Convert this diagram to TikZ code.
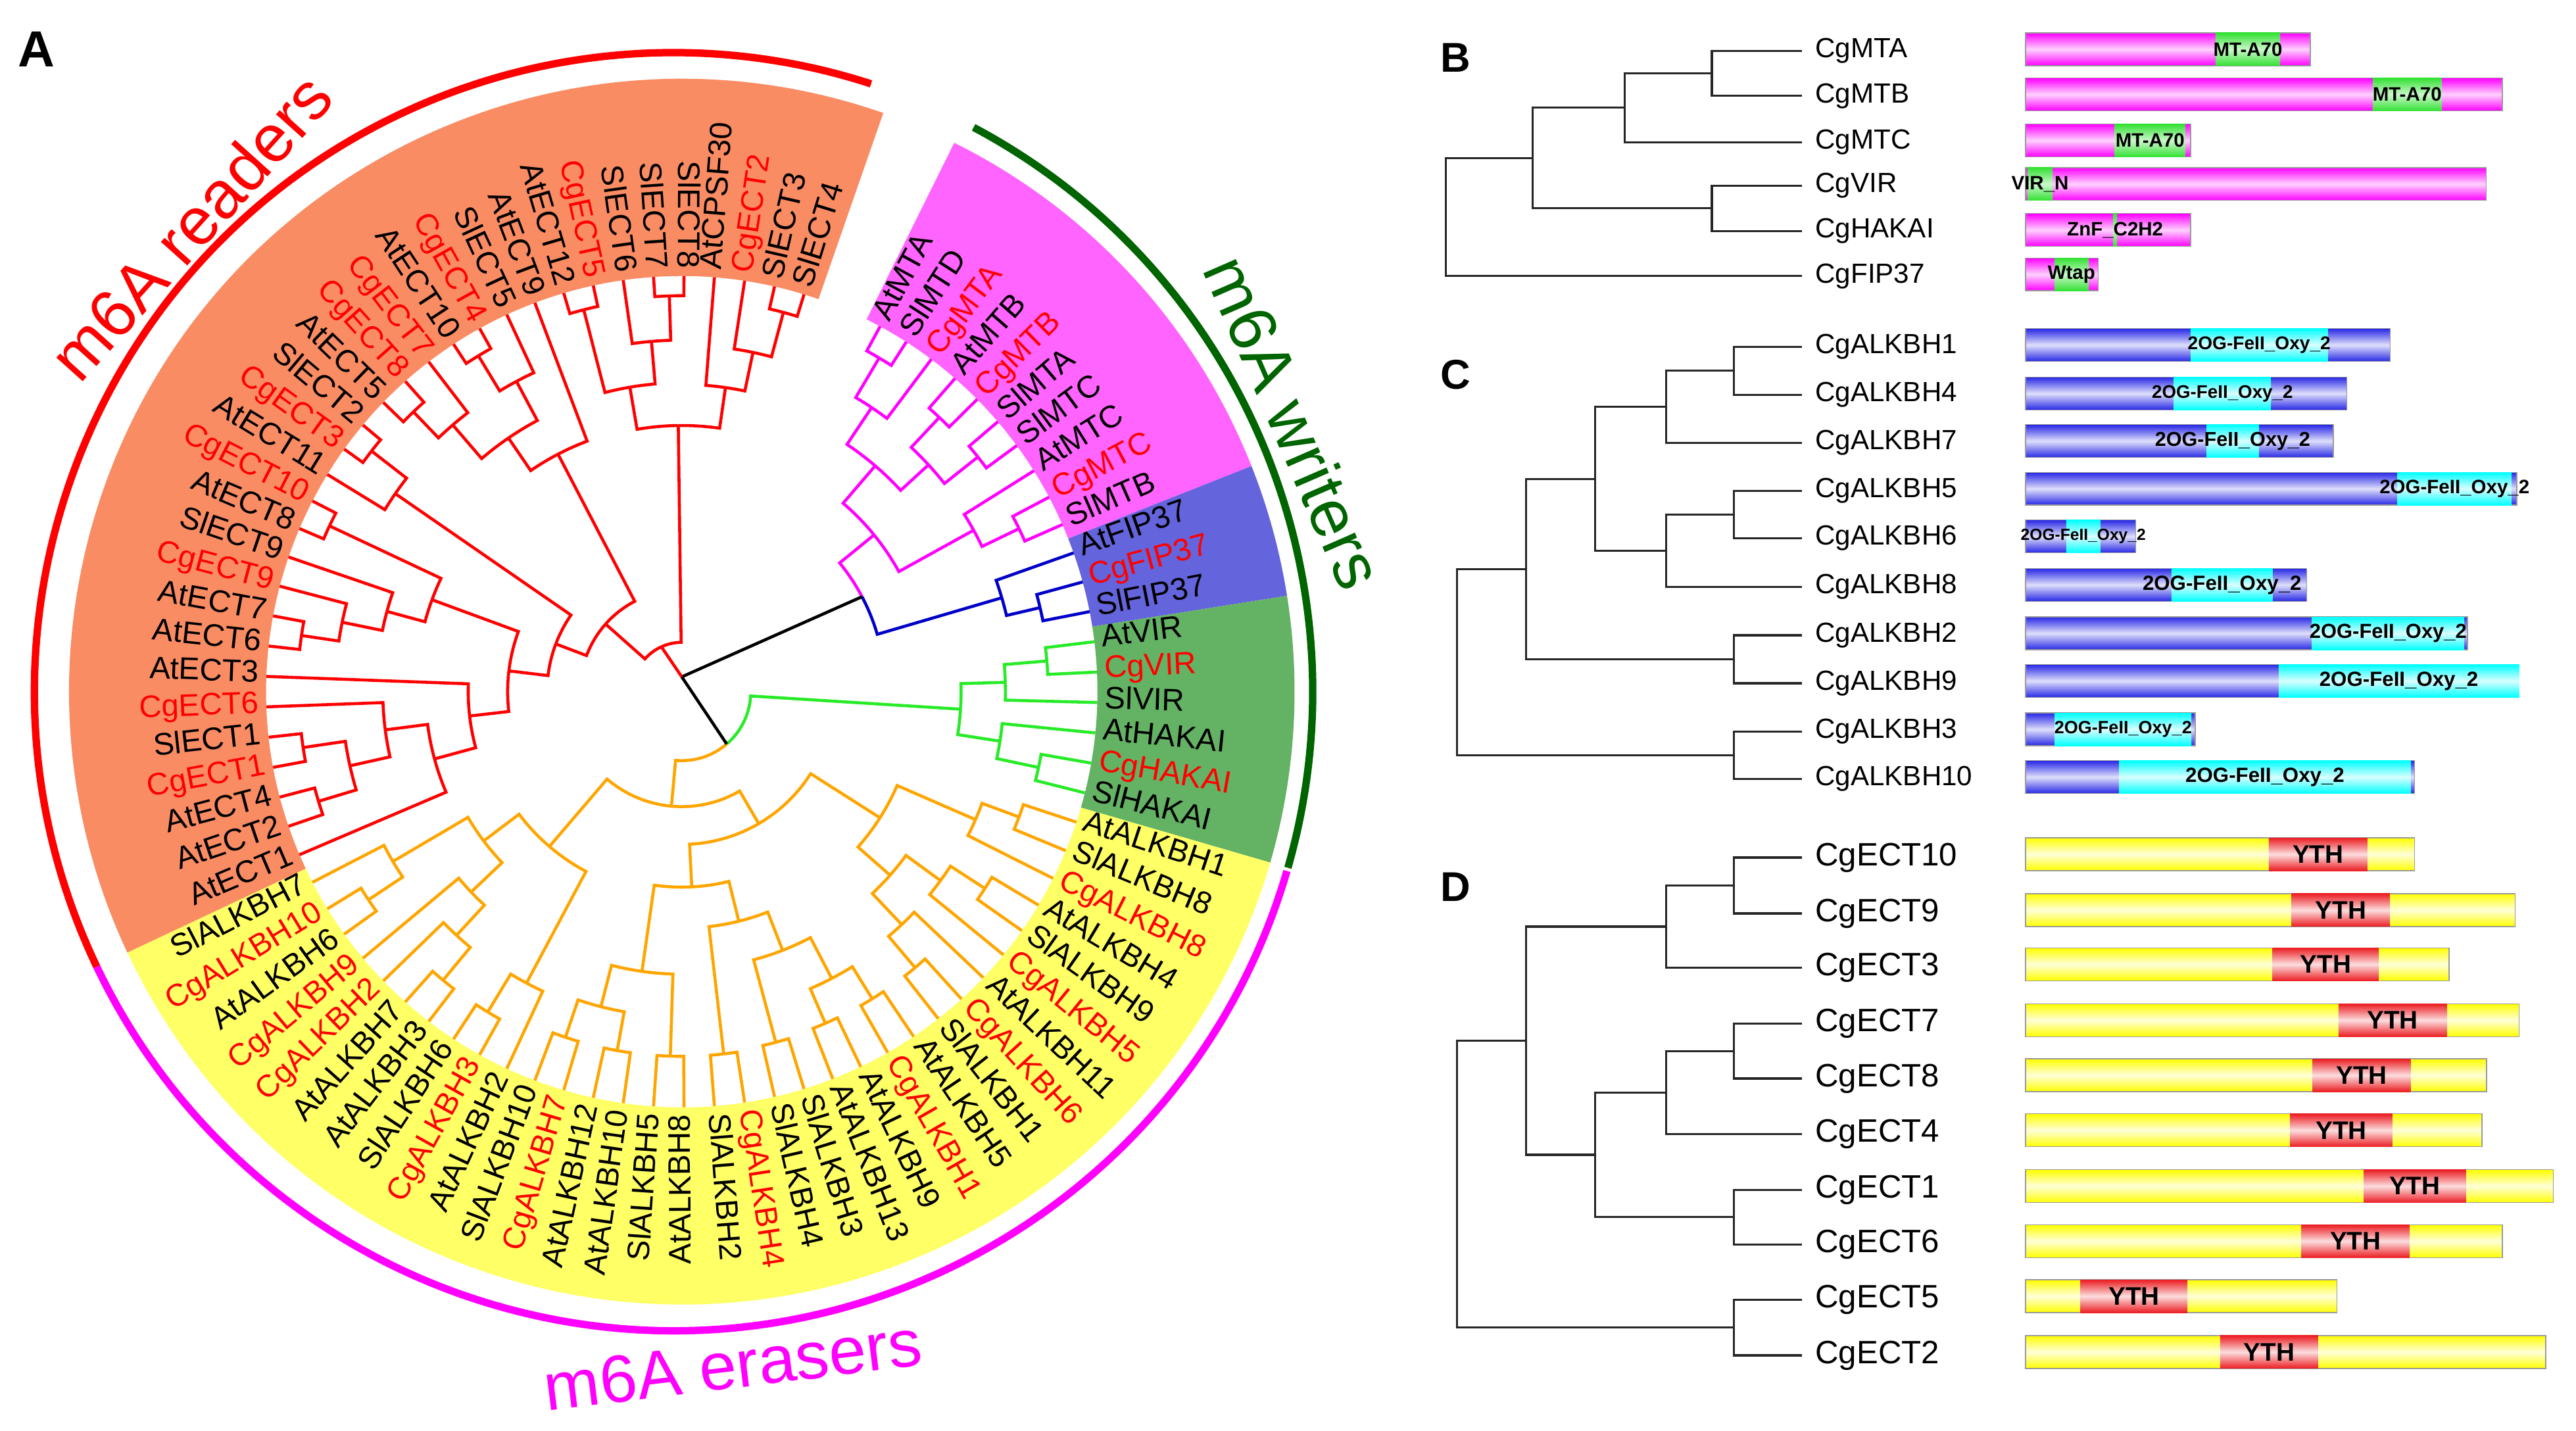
\documentclass[tikz,border=0pt]{standalone}
\usepackage{fontspec}
\setmainfont{Liberation Sans}

\definecolor{rdc}{RGB}{255,0,0}
\definecolor{mtc}{RGB}{255,0,255}
\definecolor{fpc}{RGB}{0,0,200}
\definecolor{grc}{RGB}{40,235,40}
\definecolor{orc}{RGB}{255,165,0}
\definecolor{wrgreen}{RGB}{0,100,0}
\definecolor{bandor}{RGB}{250,140,100}
\definecolor{bandpk}{RGB}{255,100,255}
\definecolor{bandbl}{RGB}{100,100,220}
\definecolor{bandgr}{RGB}{100,178,100}
\definecolor{bandyl}{RGB}{255,255,102}
\definecolor{domgr}{RGB}{50,225,50}
\definecolor{alb}{RGB}{40,40,230}
\definecolor{ecr}{RGB}{235,30,35}

\tikzset{
  branch/.style = {line width=1.3pt, line join=miter},
  leaflbl/.style = {inner sep=1pt, font=\fontsize{13.5}{16}\selectfont},
  grouplbl/.style = {inner sep=0pt, font=\fontsize{29}{34}\selectfont},
  panellbl/.style = {inner sep=0pt, font=\bfseries\fontsize{18}{22}\selectfont},
  grouparc/.style = {line width=3.2pt},
  tree/.style = {line width=0.9pt, draw=black!85},
  cglbl/.style = {anchor=west, inner xsep=5.5pt, inner ysep=1pt, font=\fontsize{12}{14}\selectfont},
  domlbl/.style = {inner sep=0pt, text=black},
  mtbar/.style = {draw=black!40, line width=0.4pt, top color=mtc, bottom color=mtc, middle color=mtc!18!white},
  mtdom/.style = {top color=domgr, bottom color=domgr, middle color=domgr!25!white},
  albar/.style = {draw=black!40, line width=0.4pt, top color=alb, bottom color=alb, middle color=alb!15!white},
  aldom/.style = {top color=cyan, bottom color=cyan, middle color=cyan!15!white},
  ecbar/.style = {draw=black!40, line width=0.4pt, top color=yellow, bottom color=yellow, middle color=yellow!15!white},
  ecdom/.style = {top color=ecr, bottom color=ecr, middle color=ecr!15!white}
}

% branch of the circular tree: parent index/radius to child index/radius
\newcommand\trbr[5]{%
  \pgfmathsetmacro\tbpa{61.5-4.2*(#2)}%
  \pgfmathsetmacro\tbca{61.5-4.2*(#4)}%
  \draw[branch, draw=#1] (\tbpa:#3) arc[start angle=\tbpa, end angle=\tbca, radius=#3*0.025cm] -- (\tbca:#5);%
}
% coloured band behind the leaf labels
\newcommand\clband[3]{%
  \pgfmathsetmacro\bsa{61.5-4.2*(#2)}%
  \pgfmathsetmacro\bea{61.5-4.2*(#3)}%
  \fill[#1] (\bsa:253) arc[start angle=\bsa, end angle=\bea, radius=253*0.025cm] -- (\bea:373) arc[start angle=\bea, end angle=\bsa, radius=373*0.025cm] -- cycle;%
}
% protein bar with one domain
\newcommand\genebar[8]{%
  \draw[#7bar] (1233,{-(#2)+10}) rectangle (#3,{-(#2)-10});
  \shade[#7dom] (#4,{-(#2)+10}) rectangle (#5,{-(#2)-10});
  \node[domlbl, font=\bfseries\fontsize{#8}{10}\selectfont] (#1) at ({((#4)+(#5))/2},{-(#2)}) {#6};%
}

\begin{document}
\begin{tikzpicture}[x=0.025cm, y=0.025cm]
\useasboundingbox (0,0) rectangle (1568,-871);

\node[panellbl, font=\bfseries\fontsize{22}{26}\selectfont] (pA) at (22,-30) {A};

% circular tree
\begin{scope}[shift={(415,-421)}]
\clband{bandpk}{-0.5}{9.5}
\clband{bandbl}{9.5}{12.5}
\clband{bandgr}{12.5}{18.5}
\clband{bandyl}{18.5}{51.5}
\clband{bandor}{51.5}{83.5}

\foreach \bcol/\bpi/\bpr/\bxi/\bxr/\byi/\byr in {
  mtc/0.5/236/0/253/1/253, mtc/1.25/208/0.5/236/2/253, mtc/3.5/229/3/253/4/253,
  mtc/5.5/230/5/253/6/253, mtc/4.5/204/3.5/229/5.5/230, mtc/2.875/181/1.25/208/4.5/204,
  mtc/8.5/228/8/253/9/253, mtc/7.75/203/7/253/8.5/228, mtc/5.3125/151/2.875/181/7.75/203,
  fpc/11.5/224/11/253/12/253, fpc/10.75/203/10/253/11.5/224,
  grc/13.5/223/13/253/14/253, grc/14.25/197/13.5/223/15/253, grc/17.5/222/17/253/18/253,
  grc/16.75/196/16/253/17.5/222, grc/15.5/170/14.25/197/16.75/196,
  orc/19.5/219/19/253/20/253, orc/20.25/195/19.5/219/21/253, orc/22.5/220/22/253/23/253,
  orc/23.25/195/22.5/220/24/253, orc/26.5/220/26/253/27/253, orc/25.75/195/25/253/26.5/220,
  orc/24.5/169/23.25/195/25.75/195, orc/22.375/143/20.25/195/24.5/169,
  orc/28.5/220/28/253/29/253, orc/30.5/220/30/253/31/253, orc/29.5/197/28.5/220/30.5/220,
  orc/32.5/221/32/253/33/253, orc/31/169/29.5/197/32.5/221, orc/34.5/222/34/253/35/253,
  orc/32.75/144/31/169/34.5/222, orc/36.5/222/36/253/37/253, orc/38.5/222/38/253/39/253,
  orc/40.5/222/40/253/41/253, orc/39.5/198/38.5/222/40.5/222, orc/38/172/36.5/222/39.5/198,
  orc/35.375/119/32.75/144/38/172, orc/28.875/93/22.375/143/35.375/119,
  orc/43.5/228/43/253/44/253, orc/42.75/201/42/253/43.5/228, orc/45.5/228/45/253/46/253,
  orc/46.25/202/45.5/228/47/253, orc/47.125/177/46.25/202/48/253, orc/49.5/229/49/253/50/253,
  orc/50.25/204/49.5/229/51/253, orc/48.69/151/47.125/177/50.25/204,
  orc/45.72/124/42.75/201/48.69/151, orc/37.3/70/28.875/93/45.72/124,
  rdc/53.5/231/53/253/54/253, rdc/55.5/233/55/253/56/253, rdc/54.5/207/53.5/231/55.5/233,
  rdc/55.75/182/54.5/207/57/253, rdc/53.875/156/52/253/55.75/182, rdc/55.94/130/53.875/156/58/253,
  rdc/59.5/234/59/253/60/253, rdc/60.25/211/59.5/234/61/253, rdc/61.125/186/60.25/211/62/253,
  rdc/63.5/237/63/253/64/253, rdc/62.31/162/61.125/186/63.5/237, rdc/59.13/106/55.94/130/62.31/162,
  rdc/66.5/239/66/253/67/253, rdc/65.75/212/65/253/66.5/239, rdc/62.44/82/59.13/106/65.75/212,
  rdc/68.5/236/68/253/69/253, rdc/69.25/214/68.5/236/70/253, rdc/71.5/239/71/253/72/253,
  rdc/72.25/214/71.5/239/73/253, rdc/70.75/187/69.25/214/72.25/214, rdc/72.375/163/70.75/187/74/253,
  rdc/67.4/62/62.44/82/72.375/163, rdc/75.5/240/75/253/76/253, rdc/78.5/241/78/253/79/253,
  rdc/77.75/214/77/253/78.5/241, rdc/76.625/188/75.5/240/77.75/214, rdc/82.5/239/82/253/83/253,
  rdc/81.75/211/81/253/82.5/239, rdc/80.875/187/80/253/81.75/211, rdc/78.75/162/76.625/188/80.875/187,
  rdc/73.1/30/67.4/62/78.75/162}{
  \trbr{\bcol}{\bpi}{\bpr}{\bxi}{\bxr}
  \trbr{\bcol}{\bpi}{\bpr}{\byi}{\byr}
}
\trbr{mtc}{8.03}{124}{5.3125}{151}
\trbr{fpc}{8.03}{124}{10.75}{203}
\trbr{grc}{26.4}{42}{15.5}{170}
\trbr{orc}{26.4}{42}{37.3}{70}

% root
\coordinate (root) at (0,9);
\coordinate (nW0) at ({61.5-4.2*8.03}:124);
\coordinate (nGO) at ({61.5-4.2*26.4}:42);
\coordinate (nP4) at ({61.5-4.2*73.1}:30);
\draw[branch] (root) -- (nW0);
\draw[branch] (root) -- (nGO);
\draw[branch, draw=rdc] (root) -- (nP4);

% leaf labels
\foreach \lab/\col [count=\i from 0] in {AtMTA/black, SlMTD/black, CgMTA/rdc, AtMTB/black,
  CgMTB/rdc, SlMTA/black, SlMTC/black, AtMTC/black, CgMTC/rdc, SlMTB/black, AtFIP37/black,
  CgFIP37/rdc, SlFIP37/black, AtVIR/black, CgVIR/rdc, SlVIR/black, AtHAKAI/black, CgHAKAI/rdc,
  SlHAKAI/black, AtALKBH1/black, SlALKBH8/black, CgALKBH8/rdc, AtALKBH4/black, SlALKBH9/black,
  CgALKBH5/rdc, AtALKBH11/black, CgALKBH6/rdc, SlALKBH1/black, AtALKBH5/black, CgALKBH1/rdc,
  AtALKBH9/black, AtALKBH13/black, SlALKBH3/black, SlALKBH4/black, CgALKBH4/rdc, SlALKBH2/black,
  AtALKBH8/black, SlALKBH5/black, AtALKBH10/black, AtALKBH12/black, CgALKBH7/rdc, SlALKBH10/black,
  AtALKBH2/black, CgALKBH3/rdc, SlALKBH6/black, AtALKBH3/black, AtALKBH7/black, CgALKBH2/rdc,
  CgALKBH9/rdc, AtALKBH6/black, CgALKBH10/rdc, SlALKBH7/black, AtECT1/black, AtECT2/black,
  AtECT4/black, CgECT1/rdc, SlECT1/black, CgECT6/rdc, AtECT3/black, AtECT6/black, AtECT7/black,
  CgECT9/rdc, SlECT9/black, AtECT8/black, CgECT10/rdc, AtECT11/black, CgECT3/rdc, SlECT2/black,
  AtECT5/black, CgECT8/rdc, CgECT7/rdc, AtECT10/black, CgECT4/rdc, SlECT5/black, AtECT9/black,
  AtECT12/black, CgECT5/rdc, SlECT6/black, SlECT7/black, SlECT8/black, AtCPSF30/black,
  CgECT2/rdc, SlECT3/black, SlECT4/black}{
  \pgfmathsetmacro\lfang{61.5-4.2*\i}
  \pgfmathtruncatemacro\lft{cos(\lfang)<0.02}
  \ifnum\lft=1
    \node[leaflbl, text=\col, anchor=mid east, rotate=\lfang+180] (lf\i) at (\lfang:256) {\lab};
  \else
    \node[leaflbl, text=\col, anchor=mid west, rotate=\lfang] (lf\i) at (\lfang:256) {\lab};
  \fi
}
\end{scope}

% group arcs
\begin{scope}[shift={(410,-421)}]
\draw[grouparc, rdc] (205.5:389) arc[start angle=205.5, end angle=72, radius=389*0.025cm];
\draw[grouparc, wrgreen] (62:389) arc[start angle=62, end angle=-16, radius=389*0.025cm];
\draw[grouparc, mtc] (-16.3:389) arc[start angle=-16.3, end angle=-154.5, radius=389*0.025cm];
\end{scope}

\node[grouplbl, text=rdc, rotate=48] (grpR) at (116,-138) {m6A readers};
\node[grouplbl, text=wrgreen, rotate=-66.5] (grpW) at (788,-257) {m6A writers};
\node[grouplbl, text=mtc, rotate=7] (grpE) at (446,-831) {m6A erasers};

% Panel B
\node[panellbl] (pB) at (886,-35) {B};
\node[cglbl] (tMTA) at (1097,-31) {CgMTA};
\node[cglbl] (tMTB) at (1097,-58.4) {CgMTB};
\node[cglbl] (tMTC) at (1097,-86.5) {CgMTC};
\node[cglbl] (tVIR) at (1097,-113) {CgVIR};
\node[cglbl] (tHAKAI) at (1097,-140.6) {CgHAKAI};
\node[cglbl] (tFIP) at (1097,-168) {CgFIP37};
\coordinate (b3) at (1042,-44.7);
\coordinate (b2) at (989,-65.6);
\coordinate (b4) at (1042,-126.8);
\coordinate (b1) at (933,-96.2);
\coordinate (b0) at (880,-132.1);
\draw[tree] (tMTA.west) -| (b3) |- (tMTB.west);
\draw[tree] (b3) -| (b2) |- (tMTC.west);
\draw[tree] (tVIR.west) -| (b4) |- (tHAKAI.west);
\draw[tree] (b2) -| (b1) |- (b4);
\draw[tree] (b1) -| (b0) |- (tFIP.west);

\genebar{yMTA}{30}{1406.3}{1348.6}{1387.9}{MT-A70}{mt}{8.4}
\genebar{yMTB}{57.5}{1523.1}{1444.2}{1486.2}{MT-A70}{mt}{8.4}
\genebar{yMTC}{85.5}{1333.4}{1287.2}{1330.2}{MT-A70}{mt}{8.4}
\genebar{yVIR}{112}{1513.4}{1234.1}{1249.4}{VIR\_N}{mt}{8.4}
\genebar{yHAKAI}{140}{1333.4}{1286.3}{1288.6}{ZnF\_C2H2}{mt}{8.4}
\genebar{yFIP}{167}{1277.1}{1250.7}{1271.1}{Wtap}{mt}{8.4}

% Panel C
\node[panellbl] (pC) at (886,-228) {C};
\node[cglbl] (tA1) at (1097,-211) {CgALKBH1};
\node[cglbl] (tA4) at (1097,-240.4) {CgALKBH4};
\node[cglbl] (tA7) at (1097,-269.6) {CgALKBH7};
\node[cglbl] (tA5) at (1097,-298.7) {CgALKBH5};
\node[cglbl] (tA6) at (1097,-327.7) {CgALKBH6};
\node[cglbl] (tA8) at (1097,-357.3) {CgALKBH8};
\node[cglbl] (tA2) at (1097,-386.7) {CgALKBH2};
\node[cglbl] (tA9) at (1097,-415.9) {CgALKBH9};
\node[cglbl] (tA3) at (1097,-445.2) {CgALKBH3};
\node[cglbl] (tA10) at (1097,-474) {CgALKBH10};
\coordinate (c14) at (1055.5,-225.7);
\coordinate (c147) at (1014,-247.65);
\coordinate (c56) at (1055.5,-313.2);
\coordinate (c568) at (1014,-335.25);
\coordinate (c18) at (971,-291.45);
\coordinate (c29) at (1055.5,-401.3);
\coordinate (c19) at (929,-346.4);
\coordinate (c310) at (1055.5,-459.6);
\coordinate (c0) at (887,-403);
\draw[tree] (tA1.west) -| (c14) |- (tA4.west);
\draw[tree] (c14) -| (c147) |- (tA7.west);
\draw[tree] (tA5.west) -| (c56) |- (tA6.west);
\draw[tree] (c56) -| (c568) |- (tA8.west);
\draw[tree] (c147) -| (c18) |- (c568);
\draw[tree] (tA2.west) -| (c29) |- (tA9.west);
\draw[tree] (c18) -| (c19) |- (c29);
\draw[tree] (tA3.west) -| (c310) |- (tA10.west);
\draw[tree] (c19) -| (c0) |- (c310);

\genebar{yA1}{210}{1454.8}{1333.4}{1416.9}{2OG-FeII\_Oxy\_2}{al}{8}
\genebar{yA4}{239.5}{1428.5}{1323.2}{1382.3}{2OG-FeII\_Oxy\_2}{al}{7.9}
\genebar{yA7}{268.5}{1420.2}{1343.1}{1374.9}{2OG-FeII\_Oxy\_2}{al}{8.7}
\genebar{yA5}{297.5}{1531.9}{1459.4}{1528.7}{2OG-FeII\_Oxy\_2}{al}{8.4}
\genebar{yA6}{326.5}{1300.1}{1257.7}{1278.4}{2OG-FeII\_Oxy\_2}{al}{7}
\genebar{yA8}{356}{1404}{1321.8}{1383.3}{2OG-FeII\_Oxy\_2}{al}{8.9}
\genebar{yA2}{385.5}{1501.9}{1407.3}{1500}{2OG-FeII\_Oxy\_2}{al}{8.8}
\genebar{yA9}{414.5}{1533.3}{1387}{1533.3}{2OG-FeII\_Oxy\_2}{al}{8.9}
\genebar{yA3}{444}{1336.2}{1250.7}{1333.9}{2OG-FeII\_Oxy\_2}{al}{7.7}
\genebar{yA10}{473}{1469.6}{1290}{1467.3}{2OG-FeII\_Oxy\_2}{al}{8.9}

% Panel D
\node[panellbl] (pD) at (886,-540) {D};
\tikzset{cglbl/.append style={font=\fontsize{14}{16}\selectfont}}
\node[cglbl] (tE10) at (1097,-522) {CgECT10};
\node[cglbl] (tE9) at (1097,-556) {CgECT9};
\node[cglbl] (tE3) at (1097,-589.1) {CgECT3};
\node[cglbl] (tE7) at (1097,-623.1) {CgECT7};
\node[cglbl] (tE8) at (1097,-656.5) {CgECT8};
\node[cglbl] (tE4) at (1097,-690.2) {CgECT4};
\node[cglbl] (tE1) at (1097,-724.2) {CgECT1};
\node[cglbl] (tE6) at (1097,-757.6) {CgECT6};
\node[cglbl] (tE5) at (1097,-791.1) {CgECT5};
\node[cglbl] (tE2) at (1097,-825) {CgECT2};
\coordinate (d109) at (1055.5,-539);
\coordinate (d1093) at (1014,-564.05);
\coordinate (d78) at (1055.5,-639.8);
\coordinate (d784) at (1014,-665);
\coordinate (d16) at (1055.5,-740.9);
\coordinate (d7816) at (971,-702.95);
\coordinate (dup) at (929,-633.5);
\coordinate (d52) at (1055.5,-808.05);
\coordinate (d0) at (887,-720.8);
\draw[tree] (tE10.west) -| (d109) |- (tE9.west);
\draw[tree] (d109) -| (d1093) |- (tE3.west);
\draw[tree] (tE7.west) -| (d78) |- (tE8.west);
\draw[tree] (d78) -| (d784) |- (tE4.west);
\draw[tree] (tE1.west) -| (d16) |- (tE6.west);
\draw[tree] (d784) -| (d7816) |- (d16);
\draw[tree] (d1093) -| (dup) |- (d7816);
\draw[tree] (tE5.west) -| (d52) |- (tE2.west);
\draw[tree] (dup) -| (d0) |- (d52);

\genebar{yE10}{520}{1469.6}{1381}{1441}{YTH}{ec}{11}
\genebar{yE9}{554}{1531}{1394.8}{1454.8}{YTH}{ec}{11}
\genebar{yE3}{587}{1490.8}{1383.3}{1447.9}{YTH}{ec}{11}
\genebar{yE7}{621}{1533.3}{1423.4}{1489.4}{YTH}{ec}{11}
\genebar{yE8}{654.5}{1513.5}{1407.7}{1467.3}{YTH}{ec}{11}
\genebar{yE4}{688}{1510.7}{1393.9}{1456.2}{YTH}{ec}{11}
\genebar{yE1}{722}{1554.1}{1438.7}{1501}{YTH}{ec}{11}
\genebar{yE6}{755.5}{1523.1}{1400.8}{1466.8}{YTH}{ec}{11}
\genebar{yE5}{789}{1422.5}{1266.4}{1331.5}{YTH}{ec}{11}
\genebar{yE2}{823}{1549.5}{1351.4}{1411}{YTH}{ec}{11}

\end{tikzpicture}
\end{document}
